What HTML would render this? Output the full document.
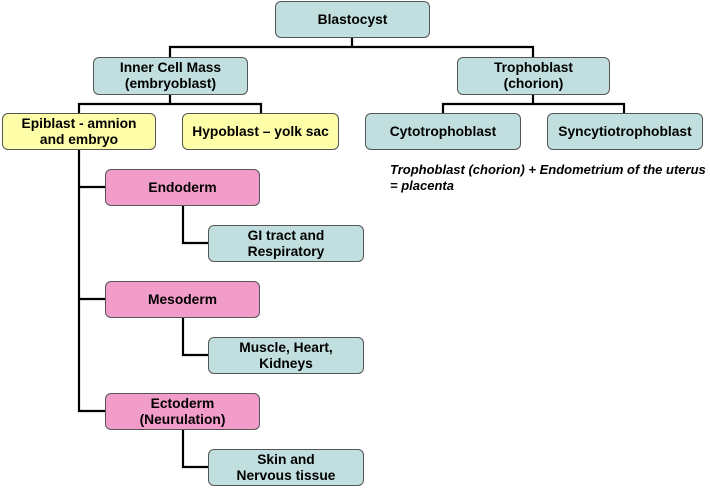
<!DOCTYPE html>
<html><head><style>
body{margin:0;width:710px;height:488px;background:#fff;position:relative;font-family:"Liberation Sans",Arial,sans-serif;overflow:hidden}
.b{position:absolute;box-sizing:border-box;border:1px solid #555;border-radius:6px;display:flex;align-items:center;justify-content:center;text-align:center;font-weight:bold;font-size:13.8px;line-height:16px;color:#000}
.t{background:#c2dfe0}.y{background:#fefea8}.p{background:#f29dc9}
svg{position:absolute;left:0;top:0}
</style></head><body>
<svg width="710" height="488"><g stroke="#000" stroke-width="2.2" fill="none">
<path d="M352 38V47M170 57V47H533V57"/>
<path d="M170 95V104M79 113V104H261V113"/>
<path d="M533 95V104M443 113V104H624V113"/>
<path d="M79 150V411H105M79 187H105M79 299H105"/>
<path d="M183 206V243H208M183 318V355H208M183 430V467H208"/>
</g></svg>
<div class="b t" style="left:275px;top:1px;width:155px;height:37px">Blastocyst</div>
<div class="b t" style="left:93px;top:57px;width:155px;height:38px">Inner Cell Mass<br>(embryoblast)</div>
<div class="b t" style="left:457px;top:57px;width:153px;height:38px">Trophoblast<br>(chorion)</div>
<div class="b y" style="left:2px;top:113px;width:154px;height:37px">Epiblast - amnion<br>and embryo</div>
<div class="b y" style="left:182px;top:113px;width:157px;height:37px">Hypoblast – yolk sac</div>
<div class="b t" style="left:365px;top:113px;width:156px;height:37px">Cytotrophoblast</div>
<div class="b t" style="left:547px;top:113px;width:156px;height:37px">Syncytiotrophoblast</div>
<div style="position:absolute;left:390px;top:162px;font-size:13px;line-height:16px;font-weight:bold;font-style:italic;white-space:nowrap">Trophoblast (chorion) + Endometrium of the uterus<br>= placenta</div>
<div class="b p" style="left:105px;top:169px;width:155px;height:37px">Endoderm</div>
<div class="b t" style="left:208px;top:225px;width:156px;height:37px">GI tract and<br>Respiratory</div>
<div class="b p" style="left:105px;top:281px;width:155px;height:37px">Mesoderm</div>
<div class="b t" style="left:208px;top:337px;width:156px;height:37px">Muscle, Heart,<br>Kidneys</div>
<div class="b p" style="left:105px;top:393px;width:155px;height:37px">Ectoderm<br>(Neurulation)</div>
<div class="b t" style="left:208px;top:449px;width:156px;height:37px">Skin and<br>Nervous tissue</div>
</body></html>
